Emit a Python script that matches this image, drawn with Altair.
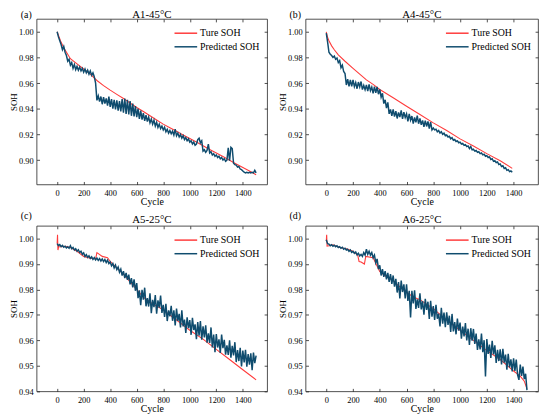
import altair as alt
import pandas as pd

FONT = "Liberation Serif"
RED = "#FF3B3B"
BLUE = "#0F4C6E"
SERIES = ["Ture SOH", "Predicted SOH"]
X_TICKS = [0, 200, 400, 600, 800, 1000, 1200, 1400]
X_DOMAIN = [-155, 1583]

# ---------------- (a) A1-45°C ----------------
A_TRUE_CYC = [0, 25, 50, 100, 150, 200, 250, 300, 350, 400, 450, 500, 550, 600, 650, 700,
              750, 800, 850, 900, 950, 1000, 1050, 1100, 1150, 1200, 1250, 1300, 1350, 1400, 1450, 1500]
A_TRUE = [1.000, 0.9930, 0.9875, 0.9790, 0.9750, 0.9710, 0.9670, 0.9620, 0.9580, 0.9545, 0.9512,
          0.9480, 0.9445, 0.9410, 0.9378, 0.9345, 0.9312, 0.9280, 0.9252, 0.9224, 0.9196, 0.9168,
          0.9140, 0.9111, 0.9083, 0.9055, 0.9027, 0.8999, 0.8970, 0.8942, 0.8914, 0.8886]
A_PRED_CYC = list(range(0, 1501, 10))
A_PRED = [
    1.0000, 0.9960, 0.9930, 0.9900, 0.9860, 0.9885, 0.9840, 0.9815, 0.9770, 0.9785,
    0.9740, 0.9760, 0.9715, 0.9745, 0.9705, 0.9730, 0.9700, 0.9725, 0.9695, 0.9715,
    0.9685, 0.9710, 0.9680, 0.9700, 0.9670, 0.9695, 0.9660, 0.9680, 0.9650, 0.9600,
    0.9465, 0.9500, 0.9455, 0.9495, 0.9435, 0.9490, 0.9440, 0.9480, 0.9425, 0.9495,
    0.9415, 0.9475, 0.9400, 0.9470, 0.9395, 0.9465, 0.9385, 0.9460, 0.9380, 0.9475,
    0.9370, 0.9480, 0.9360, 0.9470, 0.9355, 0.9460, 0.9345, 0.9440, 0.9340, 0.9420,
    0.9335, 0.9400, 0.9320, 0.9385, 0.9315, 0.9365, 0.9305, 0.9350, 0.9300, 0.9335,
    0.9290, 0.9320, 0.9280, 0.9310, 0.9265, 0.9295, 0.9255, 0.9280, 0.9245, 0.9265,
    0.9235, 0.9255, 0.9220, 0.9240, 0.9210, 0.9230, 0.9205, 0.9225, 0.9195, 0.9240,
    0.9190, 0.9210, 0.9180, 0.9200, 0.9170, 0.9190, 0.9160, 0.9175, 0.9150, 0.9165,
    0.9140, 0.9150, 0.9125, 0.9140, 0.9115, 0.9125, 0.9160, 0.9170, 0.9135, 0.9150,
    0.9070, 0.9080, 0.9060, 0.9075, 0.9125, 0.9055, 0.9065, 0.9040, 0.9050, 0.9030,
    0.9040, 0.9020, 0.9030, 0.9010, 0.9020, 0.9000, 0.9010, 0.8990, 0.9000, 0.9095,
    0.8995, 0.9100, 0.9090, 0.8975, 0.8965, 0.8960, 0.8945, 0.8950, 0.8930, 0.8925,
    0.8915, 0.8905, 0.8900, 0.8905, 0.8900, 0.8905, 0.8900, 0.8905, 0.8900, 0.8920,
    0.8900,
]

# ---------------- (b) A4-45°C ----------------
B_TRUE_CYC = [0, 10, 20, 40, 60, 90, 140, 200, 250, 300, 350, 400, 500, 600, 700, 800, 900,
              1000, 1100, 1200, 1300, 1390]
B_TRUE = [1.000, 0.9955, 0.9930, 0.9890, 0.9860, 0.9820, 0.9770, 0.9715, 0.9670, 0.9625, 0.9590,
          0.9550, 0.9485, 0.9420, 0.9355, 0.9290, 0.9230, 0.9165, 0.9110, 0.9050, 0.8995, 0.8935]
B_PRED_CYC = list(range(0, 1391, 10))
B_PRED = [
    0.9990, 0.9920, 0.9840, 0.9825, 0.9815, 0.9800, 0.9810, 0.9785, 0.9795, 0.9760,
    0.9775, 0.9720, 0.9740, 0.9690, 0.9675, 0.9585, 0.9630, 0.9575, 0.9625, 0.9575,
    0.9625, 0.9572, 0.9604, 0.9556, 0.9608, 0.9570, 0.9612, 0.9549, 0.9581, 0.9548,
    0.9585, 0.9537, 0.9589, 0.9541, 0.9568, 0.9520, 0.9572, 0.9524, 0.9571, 0.9513,
    0.9550, 0.9490, 0.9520, 0.9440, 0.9470, 0.9405, 0.9450, 0.9360, 0.9395, 0.9345,
    0.9395, 0.9338, 0.9381, 0.9324, 0.9372, 0.9335, 0.9388, 0.9321, 0.9374, 0.9332,
    0.9360, 0.9302, 0.9359, 0.9311, 0.9343, 0.9285, 0.9332, 0.9294, 0.9346, 0.9283,
    0.9325, 0.9275, 0.9309, 0.9258, 0.9308, 0.9262, 0.9302, 0.9246, 0.9296, 0.9235,
    0.9250, 0.9235, 0.9240, 0.9220, 0.9230, 0.9210, 0.9220, 0.9200, 0.9210, 0.9190,
    0.9195, 0.9180, 0.9185, 0.9165, 0.9175, 0.9155, 0.9160, 0.9145, 0.9150, 0.9135,
    0.9140, 0.9125, 0.9130, 0.9115, 0.9120, 0.9105, 0.9110, 0.9090, 0.9105, 0.9080,
    0.9085, 0.9070, 0.9075, 0.9060, 0.9065, 0.9050, 0.9055, 0.9040, 0.9045, 0.9030,
    0.9035, 0.9020, 0.9025, 0.9005, 0.9010, 0.8990, 0.8995, 0.8980, 0.8985, 0.8965,
    0.8970, 0.8950, 0.8955, 0.8935, 0.8940, 0.8920, 0.8925, 0.8910, 0.8915, 0.8905,
]

# ---------------- (c) A5-25°C ----------------
C_TRUE_CYC = [0, 3, 6, 12, 30, 60, 100, 150, 200, 250, 290, 300, 340, 380, 400, 450, 500, 550,
              600, 650, 700, 750, 800, 850, 900, 950, 1000, 1100, 1200, 1300, 1400, 1500]
C_TRUE = [0.9980, 1.0015, 0.9955, 0.9968, 0.9968, 0.9970, 0.9965, 0.9950, 0.9930, 0.9923, 0.9920,
          0.9945, 0.9930, 0.9925, 0.9910, 0.9885, 0.9860, 0.9830, 0.9800, 0.9770, 0.9750, 0.9735,
          0.9720, 0.9700, 0.9680, 0.9660, 0.9640, 0.9605, 0.9565, 0.9525, 0.9485, 0.9445]
C_PRED_CYC = list(range(0, 1501, 10))
C_PRED = [
    0.9980, 0.9972, 0.9976, 0.9968, 0.9973, 0.9966, 0.9970, 0.9963, 0.9968, 0.9962,
    0.9972, 0.9960, 0.9965, 0.9955, 0.9960, 0.9950, 0.9956, 0.9945, 0.9950, 0.9938,
    0.9944, 0.9930, 0.9937, 0.9926, 0.9932, 0.9922, 0.9928, 0.9918, 0.9925, 0.9916,
    0.9923, 0.9914, 0.9921, 0.9912, 0.9920, 0.9910, 0.9918, 0.9906, 0.9915, 0.9902,
    0.9908, 0.9893, 0.9902, 0.9885, 0.9896, 0.9878, 0.9888, 0.9868, 0.9880, 0.9855,
    0.9872, 0.9845, 0.9865, 0.9838, 0.9858, 0.9820, 0.9845, 0.9808, 0.9840, 0.9795,
    0.9825, 0.9766, 0.9797, 0.9738, 0.9799, 0.9760, 0.9807, 0.9734, 0.9766, 0.9733,
    0.9785, 0.9707, 0.9759, 0.9731, 0.9778, 0.9705, 0.9757, 0.9729, 0.9776, 0.9708,
    0.9740, 0.9692, 0.9744, 0.9676, 0.9718, 0.9695, 0.9736, 0.9677, 0.9718, 0.9659,
    0.9725, 0.9677, 0.9704, 0.9651, 0.9718, 0.9655, 0.9682, 0.9629, 0.9691, 0.9648,
    0.9680, 0.9622, 0.9689, 0.9641, 0.9663, 0.9605, 0.9672, 0.9619, 0.9676, 0.9603,
    0.9655, 0.9612, 0.9659, 0.9591, 0.9628, 0.9590, 0.9651, 0.9572, 0.9623, 0.9554,
    0.9625, 0.9572, 0.9604, 0.9551, 0.9623, 0.9570, 0.9602, 0.9544, 0.9581, 0.9543,
    0.9600, 0.9532, 0.9579, 0.9541, 0.9593, 0.9515, 0.9562, 0.9519, 0.9571, 0.9498,
    0.9560, 0.9514, 0.9563, 0.9497, 0.9546, 0.9505, 0.9549, 0.9483, 0.9552, 0.9511,
    0.9540,
]

# ---------------- (d) A6-25°C ----------------
D_TRUE_CYC = [0, 3, 6, 50, 100, 150, 200, 235, 245, 260, 285, 295, 350, 400, 450, 500, 550, 600,
              650, 700, 800, 900, 1000, 1100, 1200, 1300, 1400, 1450, 1480, 1500]
D_TRUE = [0.9990, 1.0015, 0.9970, 0.9975, 0.9965, 0.9960, 0.9950, 0.9935, 0.9910, 0.9908, 0.9900,
          0.9930, 0.9925, 0.9870, 0.9850, 0.9835, 0.9810, 0.9790, 0.9770, 0.9760, 0.9725, 0.9680,
          0.9640, 0.9600, 0.9560, 0.9525, 0.9480, 0.9460, 0.9440, 0.9410]
D_PRED_CYC = list(range(0, 1501, 10))
D_PRED = [
    0.9995, 0.9980, 0.9978, 0.9972, 0.9976, 0.9970, 0.9974, 0.9968, 0.9972, 0.9965,
    0.9968, 0.9962, 0.9966, 0.9958, 0.9962, 0.9955, 0.9958, 0.9950, 0.9955, 0.9946,
    0.9950, 0.9942, 0.9947, 0.9936, 0.9942, 0.9932, 0.9938, 0.9930, 0.9945, 0.9935,
    0.9958, 0.9938, 0.9950, 0.9935, 0.9945, 0.9925, 0.9935, 0.9905, 0.9920, 0.9880,
    0.9895, 0.9855, 0.9880, 0.9850, 0.9872, 0.9840, 0.9865, 0.9830, 0.9860, 0.9822,
    0.9855, 0.9811, 0.9842, 0.9788, 0.9829, 0.9765, 0.9835, 0.9790, 0.9820, 0.9765,
    0.9820, 0.9755, 0.9795, 0.9690, 0.9795, 0.9745, 0.9797, 0.9724, 0.9761, 0.9728,
    0.9785, 0.9722, 0.9754, 0.9701, 0.9763, 0.9720, 0.9752, 0.9684, 0.9756, 0.9693,
    0.9735, 0.9680, 0.9740, 0.9685, 0.9705, 0.9655, 0.9728, 0.9666, 0.9709, 0.9652,
    0.9710, 0.9661, 0.9697, 0.9633, 0.9704, 0.9635, 0.9672, 0.9624, 0.9686, 0.9638,
    0.9670, 0.9607, 0.9654, 0.9616, 0.9668, 0.9600, 0.9646, 0.9582, 0.9648, 0.9599,
    0.9645, 0.9586, 0.9627, 0.9563, 0.9604, 0.9565, 0.9627, 0.9554, 0.9601, 0.9458,
    0.9605, 0.9547, 0.9584, 0.9531, 0.9598, 0.9545, 0.9581, 0.9512, 0.9563, 0.9519,
    0.9565, 0.9506, 0.9567, 0.9513, 0.9544, 0.9485, 0.9547, 0.9494, 0.9526, 0.9478,
    0.9530, 0.9480, 0.9525, 0.9465, 0.9445, 0.9505, 0.9461, 0.9497, 0.9448, 0.9469,
    0.9405,
]

Y_TICKS_45 = [0.90, 0.92, 0.94, 0.96, 0.98, 1.00]
Y_TICKS_25 = [0.94, 0.95, 0.96, 0.97, 0.98, 0.99, 1.00]

W_LEFT, W_RIGHT, H = 234, 236, 168


def tick_axis(orient):
    return alt.Axis(orient=orient, labels=False, domain=False, grid=False, ticks=True,
                    tickSize=3, offset=-3, tickColor="#222", tickWidth=0.8, title=None)


def panel(tag, title, tc, tv, pc, pv, ydom, yticks, top_row, left_col):
    w = W_LEFT if left_col else W_RIGHT
    true_df = pd.DataFrame({"cycle": tc, "soh": tv, "series": SERIES[0]})
    pred_df = pd.DataFrame({"cycle": pc, "soh": pv, "series": SERIES[1]})
    df = pd.concat([true_df, pred_df], ignore_index=True)

    xs = alt.Scale(domain=X_DOMAIN, nice=False, zero=False)
    ys = alt.Scale(domain=ydom, nice=False, zero=False)
    color = alt.Color(
        "series:N",
        scale=alt.Scale(domain=SERIES, range=[RED, BLUE]),
        legend=alt.Legend(title=None, orient="none", legendX=145.5 if left_col else 148,
                          legendY=8.5, symbolType="M-2.3,0L2.3,0", symbolSize=100,
                          symbolStrokeWidth=1.5, labelFont=FONT, labelFontSize=10,
                          labelColor="black", labelOffset=8.5, rowPadding=2.8, padding=0),
    )
    base = alt.Chart(df)

    true_line = base.transform_filter(alt.datum.series == SERIES[0]).mark_line(
        strokeWidth=1.1, clip=True
    ).encode(
        x=alt.X("cycle:Q", scale=xs, axis=alt.Axis(values=X_TICKS, format="d", title="Cycle",
                                                    grid=False, ticks=False, domain=False,
                                                    labelPadding=4, titlePadding=0,
                                                    labelFont=FONT, titleFont=FONT)),
        y=alt.Y("soh:Q", scale=ys, axis=alt.Axis(values=yticks, format=".2f", title="SOH",
                                                  grid=False, ticks=False, domain=False,
                                                  labelPadding=3.5, titleX=-18.5,
                                                  titleFontSize=9,
                                                  labelFont=FONT, titleFont=FONT)),
        color=color,
    )
    pred_line = base.transform_filter(alt.datum.series == SERIES[1]).mark_line(
        strokeWidth=1.5, clip=True
    ).encode(
        x=alt.X("cycle:Q", scale=xs, axis=tick_axis("bottom")),
        y=alt.Y("soh:Q", scale=ys, axis=tick_axis("left")),
        color=color,
    )
    frame_ticks = base.transform_filter(alt.datum.series == SERIES[0]).mark_line(
        opacity=0, clip=True
    ).encode(
        x=alt.X("cycle:Q", scale=xs, axis=tick_axis("top")),
        y=alt.Y("soh:Q", scale=ys, axis=tick_axis("right")),
    )
    tag_y = -1 if top_row else -6.6
    title_y = -1 if top_row else -2.4
    tag_text = alt.Chart(pd.DataFrame({"t": [tag]})).mark_text(
        font=FONT, fontSize=10, align="center", baseline="alphabetic", color="black"
    ).encode(text="t:N", x=alt.value(-10.5), y=alt.value(tag_y))
    title_text = alt.Chart(pd.DataFrame({"t": [title]})).mark_text(
        font=FONT, fontSize=11, align="center", baseline="alphabetic", color="black"
    ).encode(text="t:N", x=alt.value(w / 2), y=alt.value(title_y))

    return alt.layer(true_line, pred_line, frame_ticks, tag_text, title_text).resolve_axis(
        x="independent", y="independent"
    ).properties(width=w, height=H)


pa = panel("(a)", "A1-45°C", A_TRUE_CYC, A_TRUE, A_PRED_CYC, A_PRED,
           [0.881, 1.010], Y_TICKS_45, True, True)
pb = panel("(b)", "A4-45°C", B_TRUE_CYC, B_TRUE, B_PRED_CYC, B_PRED,
           [0.881, 1.010], Y_TICKS_45, True, False)
pc = panel("(c)", "A5-25°C", C_TRUE_CYC, C_TRUE, C_PRED_CYC, C_PRED,
           [0.940, 1.005], Y_TICKS_25, False, True)
pdd = panel("(d)", "A6-25°C", D_TRUE_CYC, D_TRUE, D_PRED_CYC, D_PRED,
            [0.940, 1.005], Y_TICKS_25, False, False)

chart = alt.concat(
    pa, pb, pc, pdd, columns=2, spacing={"row": 42, "column": 39}, bounds="flush"
).resolve_scale(
    color="independent"
).properties(
    autosize=alt.AutoSizeParams(type="none"),
    padding={"left": 29, "top": 8, "right": 513, "bottom": 404},
).configure(
    font=FONT
).configure_view(
    stroke="#222", strokeWidth=0.8
).configure_axis(
    labelFont=FONT, titleFont=FONT, labelFontSize=8.5, titleFontSize=10,
    labelColor="black", titleColor="black", titleFontWeight="normal",
).configure_legend(
    labelFont=FONT
)

chart.save("out.html", embed_options={"renderer": "svg", "actions": False})
